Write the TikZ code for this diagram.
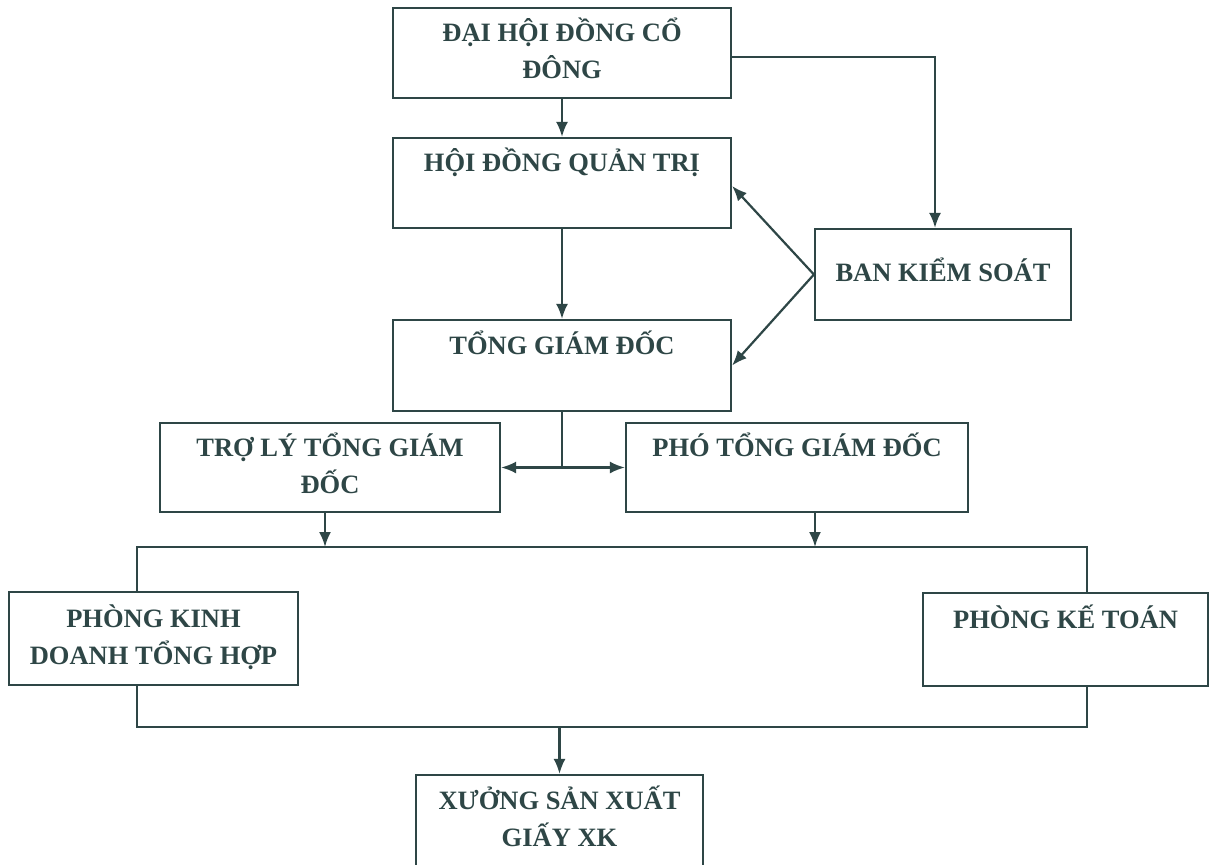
\documentclass[tikz,border=0pt]{standalone}
\usepackage{fontspec}
\setmainfont{Liberation Serif}
\usetikzlibrary{arrows.meta,calc}
\definecolor{ink}{HTML}{2E4646}
\newcommand\Two[2]{#1\strut\\#2\strut}
\tikzset{
  box/.style={draw=ink, line width=2.2pt, fill=white, inner sep=0pt, align=center,
    text=ink, font=\fontsize{26.5}{37}\selectfont\bfseries},
  conn/.style={draw=ink, line width=2.2pt},
  arr/.style={conn, -{Latex[length=15pt,width=12pt]}},
  arrboth/.style={conn, {Latex[length=15pt,width=12pt]}-{Latex[length=15pt,width=12pt]}}
}
\begin{document}
\begin{tikzpicture}[x=1pt,y=-1pt]
\useasboundingbox (0,0) rectangle (1209,864);
\clip (0,0) rectangle (1209,864);
\fill[white] (0,0) rectangle (1209,864);
% bus lines (behind the department boxes)
\coordinate (busL) at (137,547);
\coordinate (busR) at (1087,547);
\coordinate (botL) at (137,727);
\coordinate (botR) at (1087,727);
\draw[conn] (busL) -- (busR) -- (botR) -- (botL) -- cycle;
% boxes
\node[box, minimum width=338pt, minimum height=90pt] (dhdcd) at (562,53) {\Two{ĐẠI HỘI ĐỒNG CỔ}{ĐÔNG}};
\node[box, minimum width=338pt, minimum height=90pt] (hdqt) at (562,183) {\Two{HỘI ĐỒNG QUẢN TRỊ}{}};
\node[box, minimum width=256pt, minimum height=91pt] (bks) at (943,274.5) {BAN KIỂM SOÁT\strut};
\node[box, minimum width=338pt, minimum height=91pt] (tgd) at (562,365.5) {\Two{TỔNG GIÁM ĐỐC}{}};
\node[box, minimum width=340pt, minimum height=89pt] (tly) at (330,467.5) {\Two{TRỢ LÝ TỔNG GIÁM}{ĐỐC}};
\node[box, minimum width=342pt, minimum height=89pt] (pho) at (797,467.5) {\Two{PHÓ TỔNG GIÁM ĐỐC}{}};
\node[box, minimum width=289pt, minimum height=93pt] (pkd) at (153.5,638.5) {\Two{PHÒNG KINH}{DOANH TỔNG HỢP}};
\node[box, minimum width=285pt, minimum height=93pt] (pkt) at (1065.5,639.5) {\Two{PHÒNG KẾ TOÁN}{}};
\node[box, minimum width=287pt, minimum height=92pt] (xsx) at (559.5,821) {\Two{XƯỞNG SẢN XUẤT}{GIẤY XK}};
% connectors
\draw[arr] (dhdcd) -- (hdqt);
\draw[arr] ([yshift=-4pt]dhdcd.east) -| ([xshift=-8pt]bks.north);
\draw[arr] (hdqt) -- (tgd);
\draw[arr] (bks.west) -- ([yshift=-3pt]hdqt.east);
\draw[arr] (bks.west) -- (tgd.east);
\coordinate (split) at (tgd.south |- tly.east);
\draw[conn] (tgd.south) -- (split);
\draw[arrboth] (tly.east) -- (pho.west);
\draw[arr] ([xshift=-5pt]tly.south) -- ([xshift=-5pt]tly.south |- busL);
\draw[arr] ([xshift=18pt]pho.south) -- ([xshift=18pt]pho.south |- busL);
\draw[arr] (xsx.north |- botL) -- (xsx.north);
\end{tikzpicture}
\end{document}
